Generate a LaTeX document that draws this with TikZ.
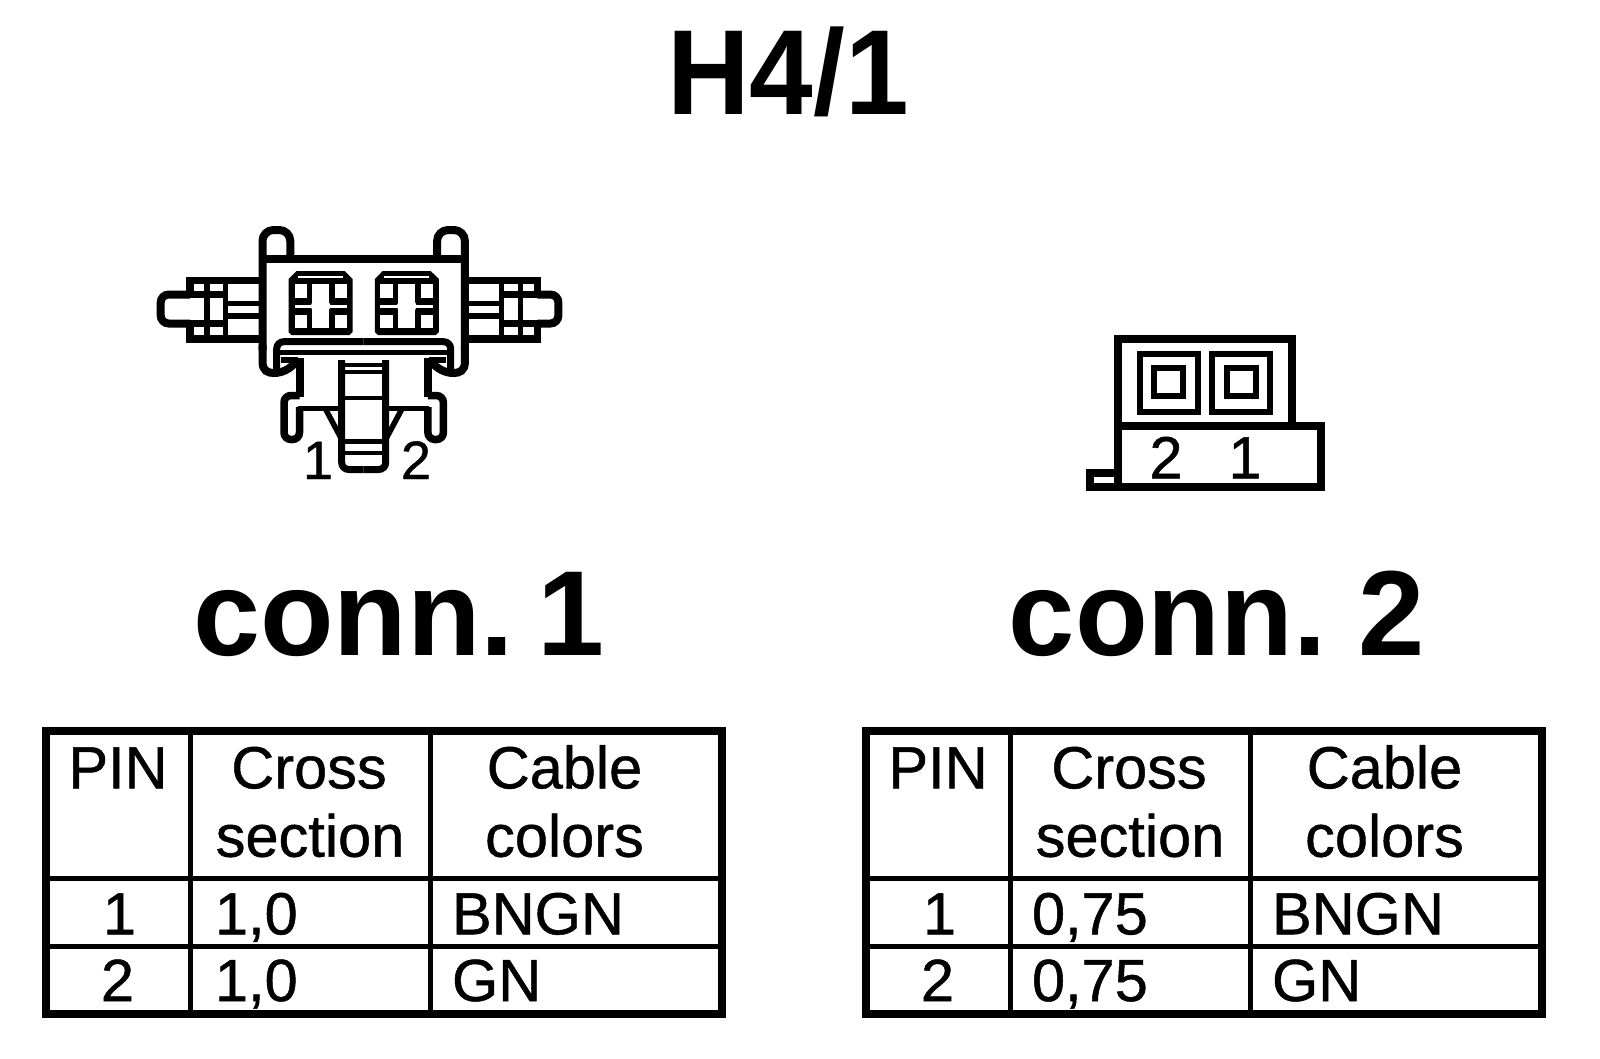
\documentclass[tikz,border=0pt]{standalone}
\usepackage{fontspec}
\setmainfont{Liberation Sans}
\newfontfamily\cellfont[FakeBold=0.8]{Liberation Sans}
\tikzset{
  lbl/.style={anchor=base,inner sep=0pt,outer sep=0pt,text=black},
  lblw/.style={anchor=base west,inner sep=0pt,outer sep=0pt,text=black},
  cell/.style={lbl,font=\cellfont\fontsize{59.5}{59.5}\selectfont},
  cellw/.style={lblw,font=\cellfont\fontsize{59.5}{59.5}\selectfont},
  big/.style={lbl,transform shape,font=\fontsize{121}{121}\selectfont\bfseries},
  wa/.style={line width=8pt},
  wb/.style={line width=7.5pt},
  wc/.style={line width=5.5pt},
  wd/.style={line width=4pt}
}
\newcommand{\halfconn}[1]{%
  % wing
  \draw[wb] (262,280.3) -- (190,280.3) -- (190,294);
  \draw[wb] (262,339) -- (190,339) -- (190,323.5);
  \draw[wa,rounded corners=8pt] (190,294.5) -- (#1,294.5) -- (#1,323.5) -- (190,323.5);
  \draw[line width=6.5pt] (186,294.5) -- (226,294.5);
  \draw[line width=6.5pt] (186,323.5) -- (226,323.5);
  \draw[wc] (207,280) -- (207,339);
  \draw[wc] (225.7,280) -- (225.7,339);
  \draw[wc] (225,303.7) -- (262,303.7);
  \draw[wc] (225,316) -- (262,316);
  % body, ear and hook
  \draw[wa,rounded corners=11pt] (262.5,350) -- (262.5,230) -- (290.3,230) -- (290.3,259);
  \draw[wa] (262.5,259) -- (363.7,259);
  \draw[wa] (262.5,345) -- (262.5,362) .. controls (262.5,371) and (268,373) .. (274,373) .. controls (282,373) and (290,369) .. (296,362);
  \draw[line width=7pt,rounded corners=7pt] (363.7,341.7) -- (276.7,341.7) -- (276.7,370);
  \draw[wc] (363.7,352.5) -- (279,352.5);
  \draw[wc] (281,360) -- (298,360);
  % socket
  \fill[black] (296.7,271) -- (344.7,271) -- (352.5,279) -- (352.5,332) -- (349.5,335) -- (291.5,335) -- (288.5,332) -- (288.5,279) -- cycle;
  \fill[white] (298.3,275.7) rectangle (343,277.7);
  \fill[white] (294.5,284.3) rectangle (306.7,297.7);
  \fill[white] (334.7,284.3) rectangle (347,297.7);
  \fill[white] (294.5,315) rectangle (306.7,328.3);
  \fill[white] (334.7,315) rectangle (347,328.3);
  \fill[white] (312,284.3) rectangle (329.3,328.3);
  \fill[white] (294.5,305) rectangle (347,307.7);
  \fill[white] (310.5,306.3) -- (314,298.3) -- (327,298.3) -- (331,306.3) -- (327,313.3) -- (314,313.3) -- cycle;
  % neck and latch
  \draw[wa] (299.5,358) -- (299.5,397);
  \draw[wb,rounded corners=7pt] (299.5,395.5) -- (284,395.5) -- (284,439.5) -- (299.5,439.5) -- (299.5,407);
  \draw[wc] (298,408.3) -- (341,408.3);
  \draw[wc] (325.5,409) -- (341,438);
  % pin
  \draw[line width=7pt,rounded corners=7pt] (341.7,360) -- (341.7,469.5) -- (363.7,469.5);
  \draw[wd] (341.7,364.5) -- (363.7,364.5);
  \draw[wd] (341.7,371.7) -- (363.7,371.7);
  \draw[wd] (341.7,398) -- (363.7,398);
  \draw[line width=5pt] (341.7,441) -- (363.7,441);
  \draw[wd] (341.7,453) -- (363.7,453);
}
\newcommand{\conntable}[4]{%
  \begin{scope}[xshift=#1pt]
    \draw[wa] (46,731) rectangle (722,1013.7);
    \draw[line width=5pt] (190.5,731) -- (190.5,1013.7);
    \draw[line width=5pt] (430,731) -- (430,1013.7);
    \draw[line width=5pt] (46,878.3) -- (722,878.3);
    \draw[line width=5pt] (46,946.3) -- (722,946.3);
    \node[cell] (#3pin) at (118,788.3) {PIN};
    \node[cell] (#3crossa) at (309,788.3) {Cross};
    \node[cell] (#3crossb) at (310,856.7) {section};
    \node[cell] (#3cablea) at (564.5,788.3) {Cable};
    \node[cell] (#3cableb) at (564.5,856.7) {colors};
    \node[cell] (#3one) at (119.5,934.3) {1};
    \node[cell] (#3two) at (117.5,1001) {2};
    \node[cellw] (#3sa) at (#4,934.3) {#2};
    \node[cellw] (#3sb) at (#4,1001) {#2};
    \node[cellw] (#3ca) at (452,934.3) {BNGN};
    \node[cellw] (#3cb) at (452,1001) {GN};
  \end{scope}
}
\begin{document}
\begin{tikzpicture}[x=1pt,y=-1pt]
  \useasboundingbox (0,0) rectangle (1600,1058);
  \fill[white] (0,0) rectangle (1600,1058);
  \node[big,xscale=.945] (title) at (788,114) {H4/1};
  % connector 1
  \halfconn{160.7}
  \begin{scope}[xshift=727.4pt,xscale=-1]
    \halfconn{169}
  \end{scope}
  \node[lbl,font=\cellfont\fontsize{54}{54}\selectfont] (cnA) at (318,479) {1};
  \node[lbl,font=\cellfont\fontsize{54}{54}\selectfont] (cnB) at (416,479) {2};
  % connector 2
  \draw[wa] (1118,487) -- (1118,339) -- (1292,339) -- (1292,426);
  \draw[wa] (1118,426) -- (1321,426) -- (1321,487) -- (1089.5,487) -- (1089.5,473) -- (1118,473);
  \draw[wc] (1139.8,354.2) rectangle (1198.2,411.8);
  \draw[line width=6pt] (1154.4,367.8) rectangle (1183.3,396.2);
  \draw[wc] (1211.8,354.2) rectangle (1270.2,411.8);
  \draw[line width=6pt] (1226.8,367.8) rectangle (1256.2,396.2);
  \node[cell] (cnC) at (1166,478.3) {2};
  \node[cell] (cnD) at (1245,478.3) {1};
  % headings
  \node[big,xscale=.995] (connA) at (399,655) {conn.\hspace{-21pt} 1};
  \node[big,xscale=.985] (connB) at (1216.5,655) {conn.\hspace{-13pt} 2};
  % tables
  \conntable{0}{1,0}{ta}{215}
  \conntable{820}{0,75}{tb}{212}
\end{tikzpicture}
\end{document}
